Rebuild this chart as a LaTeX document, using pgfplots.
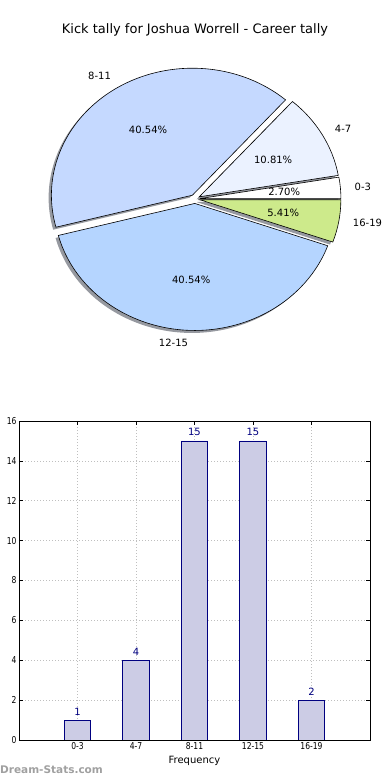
\documentclass[border=0pt]{standalone}
\usepackage{pgfplots}
\pgfplotsset{compat=1.18}
\usepackage{pgfplotstable}
\usepackage{fontspec}
\setmainfont{DejaVu Sans}
\newfontfamily\condfont{DejaVu Sans}[FakeStretch=0.8]

\definecolor{cA}{RGB}{255,255,255}
\definecolor{cB}{RGB}{235,242,255}
\definecolor{cC}{RGB}{197,217,255}
\definecolor{cD}{RGB}{181,213,255}
\definecolor{cE}{RGB}{205,234,139}
\definecolor{shad}{RGB}{150,153,160}
\definecolor{barfill}{RGB}{204,204,229}
\definecolor{navy}{RGB}{0,0,128}
\definecolor{wm}{RGB}{160,160,160}

\pgfplotstableread{
cat count
0-3 1
4-7 4
8-11 15
12-15 15
16-19 2
}\kicks

% pie geometry (pt): centre, radii, explode
\def\pcx{195}\def\pcy{581}\def\prx{141}\def\pry{127}\def\pex{0.035}\def\ptot{37}

\newcommand{\pieangles}[2]{%
  \pgfmathsetmacro{\pa}{360*#1/\ptot}%
  \pgfmathsetmacro{\pb}{360*#2/\ptot}%
  \pgfmathsetmacro{\pm}{(\pa+\pb)/2}%
  \pgfmathsetmacro{\pcxx}{\pcx+\pex*\prx*cos(\pm)}%
  \pgfmathsetmacro{\pcyy}{\pcy+\pex*\pry*sin(\pm)}%
}
\newcommand{\pieshadow}[2]{%
  \pieangles{#1}{#2}%
  \pgfmathsetmacro{\sx}{\pcxx-2.8}%
  \pgfmathsetmacro{\sy}{\pcyy-2.5}%
  \fill[shad] (axis cs:\sx,\sy) -- ++({\prx*cos(\pa)*1pt},{\pry*sin(\pa)*1pt})
    arc[start angle=\pa, end angle=\pb, x radius=\prx pt, y radius=\pry pt] -- cycle;
}
\newcommand{\pieslice}[5]{%
  \pieangles{#1}{#2}%
  \filldraw[fill=#3, draw=black, line width=0.6pt, line join=miter] (axis cs:\pcxx,\pcyy) -- ++({\prx*cos(\pa)*1pt},{\pry*sin(\pa)*1pt})
    arc[start angle=\pa, end angle=\pb, x radius=\prx pt, y radius=\pry pt] -- cycle;
  \pgfmathsetmacro{\tx}{\pcxx+0.6*\prx*cos(\pm)}%
  \pgfmathsetmacro{\ty}{\pcyy+0.6*\pry*sin(\pm)}%
  \node[font=\fontsize{10}{12}\selectfont, inner sep=0pt] at (axis cs:\tx,\ty) {#5};
  \pgfmathsetmacro{\lx}{\pcxx+1.1*\prx*cos(\pm)}%
  \pgfmathsetmacro{\ly}{\pcyy+1.1*\pry*sin(\pm)}%
  \pgfmathsetmacro{\cm}{cos(\pm)}%
  \ifdim\cm pt>0pt\def\lanc{west}\else\def\lanc{east}\fi
  \node[font=\fontsize{10}{12}\selectfont, inner sep=0pt, anchor=\lanc] at (axis cs:\lx,\ly) {#4};
}

\begin{document}
\begin{tikzpicture}
\useasboundingbox (0pt,0pt) rectangle (390pt,780pt);

% ---------- pie ----------
\begin{axis}[at={(0pt,0pt)}, anchor=south west, scale only axis,
  width=390pt, height=780pt, xmin=0, xmax=390, ymin=0, ymax=780,
  hide axis, clip=false]
\pgfplotsextra{%
  \pieshadow{0}{1}\pieshadow{1}{5}\pieshadow{5}{20}\pieshadow{20}{35}\pieshadow{35}{37}%
  \pieslice{0}{1}{cA}{0-3}{2.70\%}%
  \pieslice{1}{5}{cB}{4-7}{10.81\%}%
  \pieslice{5}{20}{cC}{8-11}{40.54\%}%
  \pieslice{20}{35}{cD}{12-15}{40.54\%}%
  \pieslice{35}{37}{cE}{16-19}{5.41\%}%
}
\end{axis}

\node[font=\fontsize{13}{15}\selectfont] at (195pt,750pt) {Kick tally for Joshua Worrell - Career tally};

% ---------- bars ----------
\begin{axis}[at={(19pt,40pt)}, anchor=south west, scale only axis,
  width=351pt, height=319pt,
  xmin=-1, xmax=5, ymin=0, ymax=16,
  xtick={0,1,2,3,4}, xticklabels={0-3,4-7,8-11,12-15,16-19},
  ytick={0,2,...,16},
  grid=major, grid style={dash pattern=on 1pt off 2pt, gray!50, line width=0.6pt},
  tick align=inside, major tick length=4pt,
  tick style={black, line width=0.5pt},
  axis line style={black, line width=0.9pt},
  /pgf/number format/assume math mode=true,
  ticklabel style={font=\condfont\fontsize{9.5}{9.5}\selectfont},
  xticklabel style={yshift=1pt},
  yticklabel style={xshift=1pt},
  xlabel={Frequency},
  xlabel style={font=\fontsize{10}{12}\selectfont, yshift=0pt},
]
\addplot[ybar, bar width=0.45, fill=barfill, draw=navy, line width=0.8pt,
  nodes near coords,
  nodes near coords style={text=navy, font=\fontsize{10}{12}\selectfont, inner sep=0pt, yshift=4.5pt}]
  table[x expr=\coordindex, y=count]{\kicks};
\end{axis}

\node[anchor=west, inner sep=0pt, font=\bfseries\fontsize{10.5}{12}\selectfont, text=wm] at (0pt,10pt) {Dream-Stats.com};
\end{tikzpicture}
\end{document}
